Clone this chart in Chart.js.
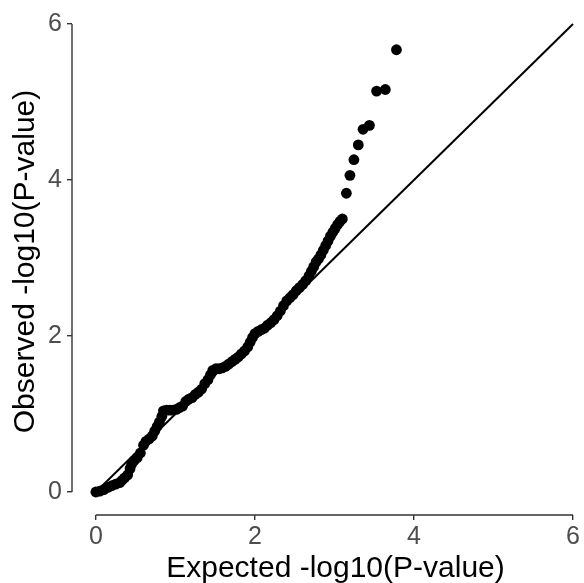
<!DOCTYPE html>
<html>
<head>
<meta charset="utf-8">
<script src="https://cdn.jsdelivr.net/npm/chart.js@4/dist/chart.umd.min.js"></script>
<style>
  body { margin: 0; background: #fff; }
  #wrap { width: 584px; height: 583px; }
</style>
</head>
<body>
<div id="wrap"><canvas id="qqChart"></canvas></div>
<script>
// expected / observed -log10(P)
let expected = [
  0.00, 0.05, 0.10, 0.15, 0.20, 0.25, 0.30, 0.33, 0.36, 0.40,
  0.43, 0.45, 0.48, 0.52, 0.56, 0.60, 0.63, 0.67, 0.71, 0.74,
  0.77, 0.80, 0.83, 0.85, 0.89, 0.93, 0.97, 1.01, 1.05, 1.09,
  1.13, 1.17, 1.21, 1.25, 1.29, 1.33, 1.37, 1.41, 1.44, 1.47,
  1.51, 1.55, 1.59, 1.63, 1.67, 1.71, 1.75, 1.79, 1.83, 1.87,
  1.91, 1.94, 1.97, 2.00, 2.04, 2.08, 2.12, 2.16, 2.20, 2.24,
  2.28, 2.32, 2.36, 2.40, 2.44, 2.48, 2.52, 2.56, 2.60, 2.64,
  2.68, 2.71, 2.74, 2.77, 2.80, 2.83, 2.86, 2.89, 2.92, 2.95,
  2.98, 3.01, 3.04, 3.07, 3.10,
  3.15, 3.195, 3.245, 3.30, 3.36, 3.44, 3.53, 3.64, 3.78
];
let observed = [
  0.00, 0.01, 0.03, 0.06, 0.08, 0.10, 0.12, 0.15, 0.18, 0.22,
  0.30, 0.36, 0.40, 0.44, 0.50, 0.60, 0.65, 0.68, 0.72, 0.78,
  0.84, 0.90, 0.97, 1.04, 1.05, 1.05, 1.05, 1.06, 1.08, 1.10,
  1.16, 1.19, 1.21, 1.25, 1.28, 1.32, 1.39, 1.44, 1.50, 1.56,
  1.58, 1.58, 1.59, 1.61, 1.64, 1.67, 1.70, 1.73, 1.77, 1.81,
  1.86, 1.92, 1.98, 2.03, 2.06, 2.08, 2.10, 2.14, 2.17, 2.21,
  2.26, 2.32, 2.39, 2.45, 2.49, 2.53, 2.58, 2.62, 2.66, 2.71,
  2.77, 2.83, 2.89, 2.95, 2.99, 3.04, 3.10, 3.16, 3.22, 3.28,
  3.33, 3.38, 3.43, 3.47, 3.50,
  3.83, 4.06, 4.26, 4.45, 4.65, 4.70, 5.14, 5.16, 5.67
];
let refLine = [0, 6];
let tickValues = [0, 2, 4, 6];
let xTitle = "Expected -log10(P-value)";
let yTitle = "Observed -log10(P-value)";

let points = expected.map((x, i) => ({ x: x, y: observed[i] }));

// ggplot-ish axis lines that only span 0..6, plus the axis titles
const cappedAxes = {
  id: "cappedAxes",
  afterDraw(chart) {
    const { ctx, chartArea, scales } = chart;
    ctx.save();
    ctx.strokeStyle = "#333333";
    ctx.lineWidth = 1.4;
    ctx.beginPath();
    ctx.moveTo(chartArea.left, scales.y.getPixelForValue(0));
    ctx.lineTo(chartArea.left, scales.y.getPixelForValue(6));
    ctx.moveTo(scales.x.getPixelForValue(0), chartArea.bottom);
    ctx.lineTo(scales.x.getPixelForValue(6), chartArea.bottom);
    ctx.stroke();

    ctx.fillStyle = "black";
    ctx.font = "30px 'Liberation Sans'";
    ctx.textAlign = "center";
    ctx.textBaseline = "alphabetic";
    ctx.fillText(xTitle, 335.5, 577);
    ctx.translate(33.5, 261.5);
    ctx.rotate(-Math.PI / 2);
    ctx.fillText(yTitle, 0, 0);
    ctx.restore();
  },
};

let qqChart = new Chart(document.getElementById("qqChart"), {
  type: "scatter",
  data: {
    datasets: [
      {
        type: "line",
        data: refLine.map((v) => ({ x: v, y: v })),
        borderColor: "black",
        borderWidth: 2,
        pointRadius: 0,
        clip: false,
      },
      {
        data: points,
        backgroundColor: "black",
        borderWidth: 0,
        pointRadius: 5.4,
        clip: false,
      },
    ],
  },
  options: {
    responsive: true,
    maintainAspectRatio: false,
    animation: false,
    layout: { padding: { top: 24, right: 11, left: 0, bottom: 0 } },
    plugins: { legend: { display: false }, tooltip: { enabled: false } },
    scales: {
      x: {
        type: "linear",
        min: -0.3,
        max: 6,
        afterBuildTicks: (s) => { s.ticks = tickValues.map((v) => ({ value: v })); },
        afterFit: (s) => { s.height = 68; },
        border: { display: false },
        grid: { drawOnChartArea: false, tickLength: 5, color: "#333333", lineWidth: 1.4 },
        ticks: { color: "#4D4D4D", padding: 2, font: { family: "Liberation Sans", size: 25 } },
      },
      y: {
        type: "linear",
        min: -0.295,
        max: 6,
        afterBuildTicks: (s) => { s.ticks = tickValues.map((v) => ({ value: v })); },
        afterFit: (s) => { s.width = 72; },
        border: { display: false },
        grid: { drawOnChartArea: false, tickLength: 5, color: "#333333", lineWidth: 1.4 },
        ticks: { color: "#4D4D4D", padding: 5, font: { family: "Liberation Sans", size: 25 } },
      },
    },
  },
  plugins: [cappedAxes],
});
</script>
</body>
</html>
